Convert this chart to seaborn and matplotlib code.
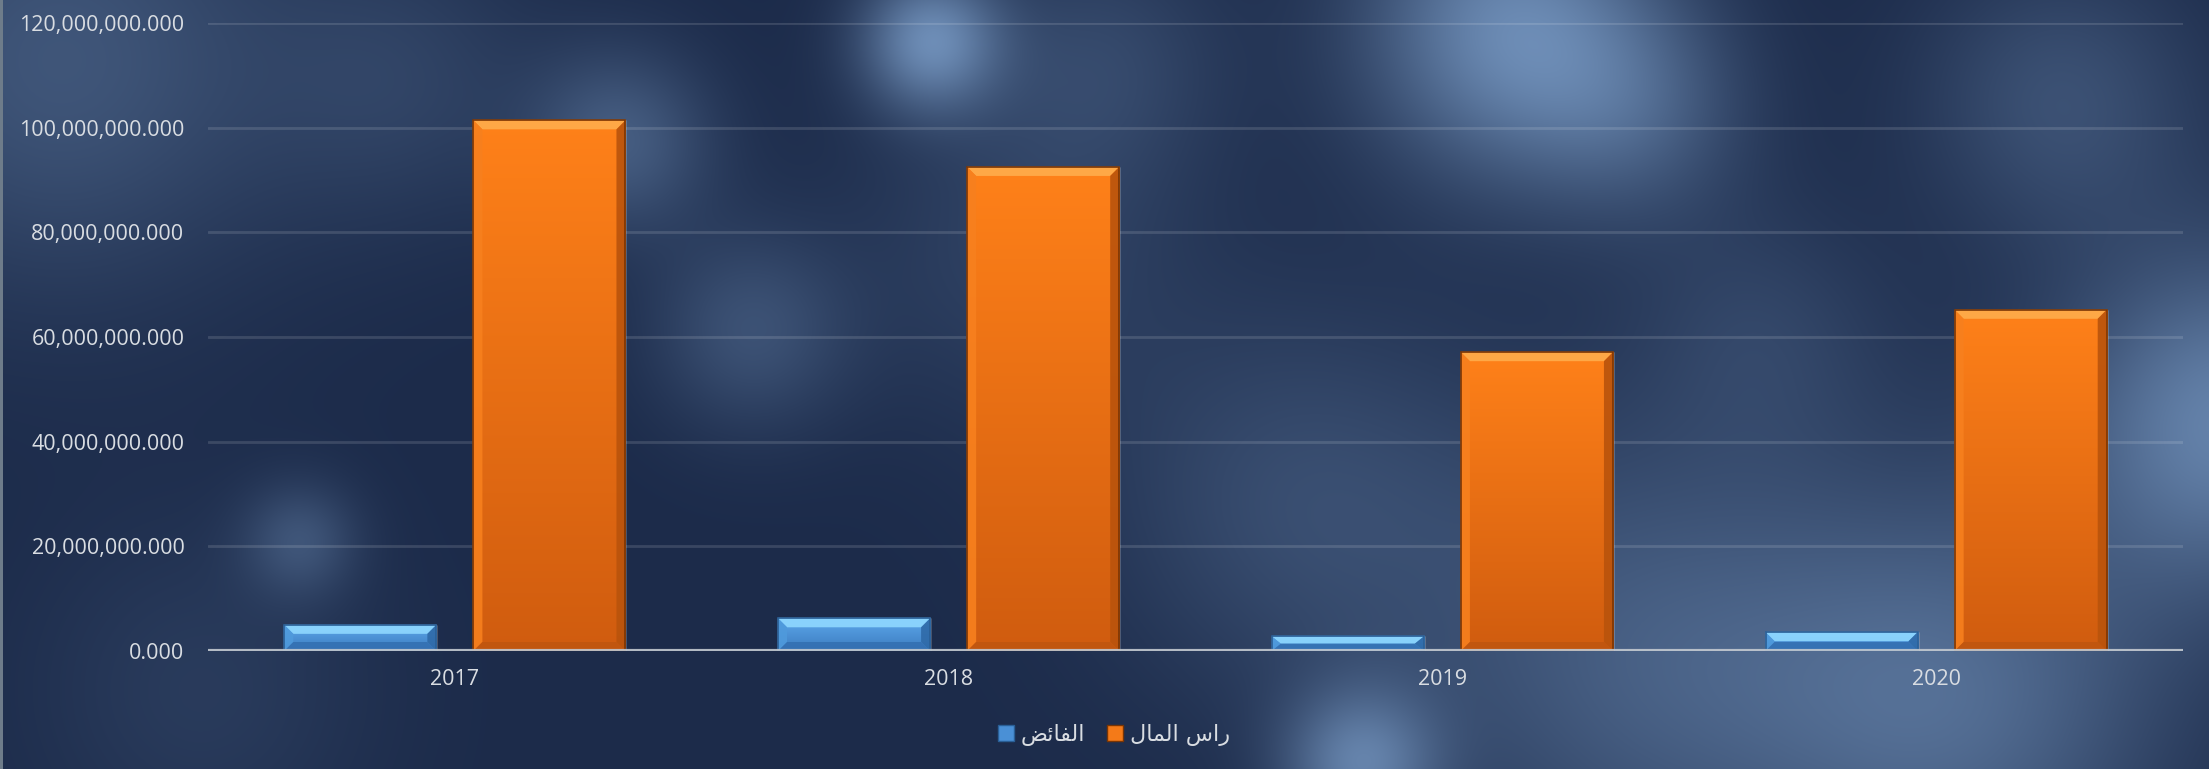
import numpy as np
import pandas as pd
import matplotlib
matplotlib.use("Agg")
import matplotlib.pyplot as plt
import seaborn as sns
from matplotlib.patches import Polygon, Rectangle
from matplotlib.ticker import FuncFormatter

# ---- data -------------------------------------------------------------
years = ["2017", "2018", "2019", "2020"]
surplus = [5.0e6, 6.25e6, 2.8e6, 3.6e6]          # الفائض
capital = [101.4e6, 92.5e6, 57.1e6, 65.2e6]      # راس المال
series_names = ["الفائض", "راس المال"]
y_ticks = [0, 20e6, 40e6, 60e6, 80e6, 100e6, 120e6]

# ---- minimal Arabic shaping (contextual forms + visual order) -----------
_FORMS = {  # isolated, final, initial, medial
    "\u0627": ("\uFE8D", "\uFE8E", None, None),        # ا
    "\u0631": ("\uFEAD", "\uFEAE", None, None),        # ر
    "\u0644": ("\uFEDD", "\uFEDE", "\uFEDF", "\uFEE0"),  # ل
    "\u0641": ("\uFED1", "\uFED2", "\uFED3", "\uFED4"),  # ف
    "\u0626": ("\uFE89", "\uFE8A", "\uFE8B", "\uFE8C"),  # ئ
    "\u0636": ("\uFEBD", "\uFEBE", "\uFEBF", "\uFEC0"),  # ض
    "\u0633": ("\uFEB1", "\uFEB2", "\uFEB3", "\uFEB4"),  # س
    "\u0645": ("\uFEE1", "\uFEE2", "\uFEE3", "\uFEE4"),  # م
}


def shape_arabic(text):
    out = []
    for i, ch in enumerate(text):
        forms = _FORMS.get(ch)
        if forms is None:
            out.append(ch)
            continue
        prev = text[i - 1] if i > 0 else None
        nxt = text[i + 1] if i + 1 < len(text) else None
        join_prev = prev in _FORMS and _FORMS[prev][2] is not None
        join_next = forms[2] is not None and nxt in _FORMS
        if join_prev and join_next:
            out.append(forms[3])
        elif join_prev:
            out.append(forms[1])
        elif join_next:
            out.append(forms[2])
        else:
            out.append(forms[0])
    return "".join(reversed(out))


# ---- style ------------------------------------------------------------
sns.set_theme(style="dark")
plt.rcParams["font.family"] = ["Open Sans", "DejaVu Sans"]
TEXT = "#d9dde2"
BLUE = "#4a90d6"
ORANGE = "#f47a18"

W, H = 2209, 769
fig = plt.figure(figsize=(W / 100, H / 100), dpi=100)

# bokeh-style background
bg = fig.add_axes([0, 0, 1, 1], zorder=-10)
yy, xx = np.mgrid[0:H, 0:W].astype(float)
glow = np.zeros((H, W))
blobs = [
    (930, 40, 50, 0.85), (1510, 30, 105, 0.85), (1640, 110, 80, 0.35),
    (620, 140, 65, 0.45), (750, 330, 70, 0.35), (300, 540, 40, 0.35),
    (2230, 420, 120, 0.8), (1360, 765, 55, 0.7), (1650, 660, 170, 0.45),
    (1960, 700, 150, 0.55), (60, 60, 160, 0.4), (1020, 250, 120, 0.2),
    (1300, 500, 140, 0.3), (2060, 100, 100, 0.35), (1760, 330, 90, 0.2),
    (200, 690, 120, 0.15), (1100, 60, 90, 0.25), (400, 80, 100, 0.2),
]
for bx, by, s, a in blobs:
    glow += a * np.exp(-((xx - bx) ** 2 + (yy - by) ** 2) / (2 * s * s))
glow = np.clip(glow, 0, 1)[..., None]
base = np.array([0x1c, 0x2b, 0x4a]) / 255
light = np.array([0x74, 0x95, 0xbf]) / 255
img = base + (light - base) * glow
bg.imshow(img, aspect="auto", extent=(0, 1, 0, 1), origin="upper")
bg.set_axis_off()
fig.patches.append(Rectangle((0, 0), 3 / W, 1, transform=fig.transFigure,
                             facecolor="#6e7c8a", edgecolor="none", zorder=-5))

# ---- chart ------------------------------------------------------------
ax = fig.add_axes([208 / W, 1 - 651 / H, (2183 - 208) / W, (651 - 23) / H])
ax.set_facecolor("none")

df = pd.DataFrame({
    "year": years * 2,
    "value": surplus + capital,
    "series": [series_names[0]] * len(years) + [series_names[1]] * len(years),
})
sns.barplot(data=df, x="year", y="value", hue="series", hue_order=series_names,
            palette=[BLUE, ORANGE], width=0.766, gap=0.196, ax=ax,
            saturation=1, legend=False, errorbar=None, zorder=3)

ax.set_xlim(-0.5, len(years) - 0.5)
ax.set_ylim(0, 120e6)
ax.set_yticks(y_ticks)
ax.yaxis.set_major_formatter(FuncFormatter(lambda v, _: f"{v:,.3f}"))
ax.set_xlabel("")
ax.set_ylabel("")
for sp in ax.spines.values():
    sp.set_visible(False)
ax.grid(False)
ax.yaxis.grid(True, color="#ffffff", alpha=0.13, linewidth=2, zorder=0)
ax.set_axisbelow(True)
ax.tick_params(axis="y", length=0, pad=17, labelsize=15.5, labelcolor=TEXT)
ax.tick_params(axis="x", length=0, pad=13, labelsize=15.5, labelcolor=TEXT)
ax.axhline(0, color="#c3c9d0", linewidth=3, alpha=0.9, zorder=6)

# bevelled, gradient-filled bars
fig.canvas.draw()
inv = ax.transData.inverted()
p0 = inv.transform((0, 0))
p1 = inv.transform((1, 1))
ux, uy = p1[0] - p0[0], p1[1] - p0[1]    # data units per pixel

styles = {
    0: dict(top="#5ea9ec", bot="#3b7bbf", hi="#8fd8ff", lt="#4f9adc",
            rt="#2f6aa8", bm="#3470b2", edge="#2a5f96"),
    1: dict(top="#ff8119", bot="#d05c0f", hi="#ffad4c", lt="#f7801e",
            rt="#b9530c", bm="#c0560f", edge="#7a3504"),
}
for k, cont in enumerate(ax.containers):
    st = styles[k]
    c_top = np.array(matplotlib.colors.to_rgb(st["top"]))
    c_bot = np.array(matplotlib.colors.to_rgb(st["bot"]))
    for bar in cont:
        x0, y0 = bar.get_x(), bar.get_y()
        x1, y1 = x0 + bar.get_width(), y0 + bar.get_height()
        t = np.linspace(0, 1, 256)[:, None, None]
        grad = c_top + (c_bot - c_top) * t
        im = ax.imshow(grad, extent=(x0, x1, y0, y1), origin="upper",
                       aspect="auto", zorder=3.1)
        im.set_clip_path(bar)
        bx, by = 9 * ux, 9 * uy
        by = min(by, (y1 - y0) / 2)
        polys = [
            ([(x0, y1), (x1, y1), (x1 - bx, y1 - by), (x0 + bx, y1 - by)], st["hi"]),
            ([(x1, y1), (x1, y0), (x1 - bx, y0 + by), (x1 - bx, y1 - by)], st["rt"]),
            ([(x0, y1), (x0, y0), (x0 + bx, y0 + by), (x0 + bx, y1 - by)], st["lt"]),
            ([(x0, y0), (x1, y0), (x1 - bx, y0 + by), (x0 + bx, y0 + by)], st["bm"]),
        ]
        for pts, col in polys:
            ax.add_patch(Polygon(pts, closed=True, facecolor=col,
                                 edgecolor="none", alpha=0.9, zorder=3.2))
        ax.add_patch(Rectangle((x0, y0), x1 - x0, y1 - y0, facecolor="none",
                               edgecolor=st["edge"], linewidth=1.2, zorder=3.3))
ax.set_xlim(-0.5, len(years) - 0.5)
ax.set_ylim(0, 120e6)

# legend
handles = [
    Rectangle((0, 0), 1, 1, facecolor=BLUE, edgecolor="#2a5f96", linewidth=1),
    Rectangle((0, 0), 1, 1, facecolor=ORANGE, edgecolor="#7a3504", linewidth=1),
]
leg = fig.legend(handles, [shape_arabic(s) for s in series_names],
                 loc="center", bbox_to_anchor=(1114 / W, 1 - 735 / H),
                 ncol=2, frameon=False, handlelength=0.7,
                 handleheight=0.7, handletextpad=0.3, columnspacing=1.0,
                 prop={"family": ["DejaVu Sans"], "size": 16})
for txt in leg.get_texts():
    txt.set_color(TEXT)

fig.savefig("out.png", dpi=100)
